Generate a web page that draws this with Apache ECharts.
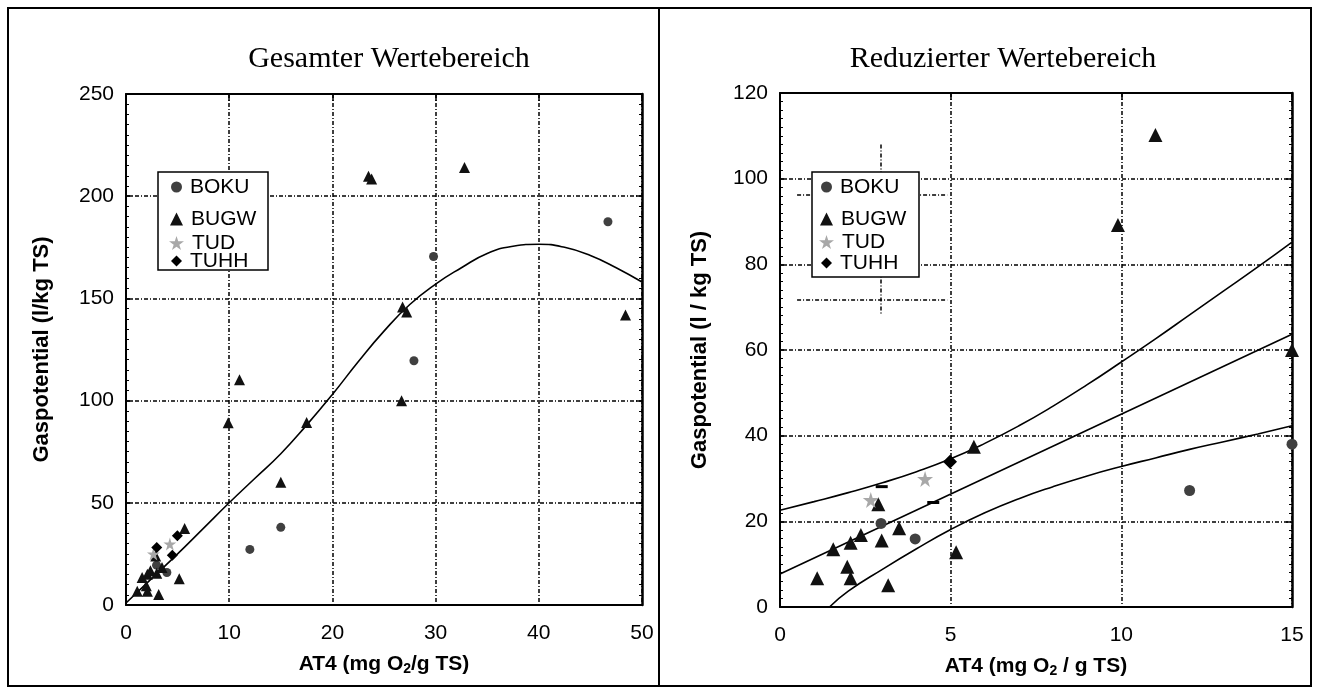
<!DOCTYPE html>
<html>
<head>
<meta charset="utf-8">
<script src="https://cdn.jsdelivr.net/npm/echarts@6/dist/echarts.min.js"></script>
<style>
html,body{margin:0;padding:0;background:#fff;}
#chart{width:1319px;height:693px;}
</style>
</head>
<body>
<div id="chart"></div>
<script>
// ---------- data ----------
var seriesNames = ['BOKU', 'BUGW', 'TUD', 'TUHH'];
var boku = [[2.96,19.5],[3.96,15.9],[12.0,27.2],[15.0,38.0],[27.9,119.5],[29.8,170.5],[46.7,187.5]];
var bugw = [[1.09,6.7],[1.56,13.5],[1.97,9.4],[2.07,6.7],[2.07,15.0],[2.37,16.8],[2.88,24.0],[2.98,15.5],
            [3.17,5.1],[3.49,18.4],[5.16,12.8],[5.68,37.4],[9.9,89.2],[11.0,110.2],[15.0,60.0],[17.5,89.3],
            [23.5,209.8],[23.8,208.4],[26.7,99.9],[26.8,145.8],[27.2,143.4],[32.8,214.0],[48.4,141.9]];
var tud  = [[2.66,25.0],[4.25,29.9]];
var tuhh = [[2.98,28.1],[4.98,33.9],[4.49,24.4]];
var tuhhDashIdxRight = [0, 2];   // drawn as short dashes in the right panel

// fitted curve, full range (left panel)
var fitAllX = [0,2.5,5,7.5,10,12.5,15,17.5,20,22.5,25,27.5,30,32.5,35,37.5,40,42.5,45,47.5,50];
var fitAllY = [1,13,25,37.5,50,62,74,88,103,119,134,147,157,165,172,175.5,176.5,175,171,165,158];

// linear fit with confidence band (right panel)
var linX = [0, 15];
var linY = [7.7, 63.7];
var bandUpX = [0,1,2,3,4,5,6,7,8,9,10,11,12,13,14,15];
var bandUpY = [22.6,24.6,26.7,29.0,31.6,34.6,38.2,42.3,46.9,51.9,57.2,62.6,68.2,73.8,79.4,85.2];
var bandLoX = [1.45,2,3,4,5,6,7,8,9,10,11,12,13,14,15];
var bandLoY = [0,3.7,8.8,13.6,18.1,22.0,25.3,28.1,30.6,32.8,34.8,36.8,38.6,40.4,42.3];

// stray grid fragments visible in the right panel
var ghostSegs = [
  [[2.95,108],[2.95,68.5]],
  [[0.5,96.2],[4.9,96.2]],
  [[0.5,71.8],[4.9,71.8]]
];

// axis ticks
var leftXTicks = {min:0, max:50, interval:10};
var leftYTicks = {min:0, max:250, interval:50};
var rightXTicks = {min:0, max:15, interval:5};
var rightYTicks = {min:0, max:120, interval:20};

var titles = ['Gesamter Wertebereich', 'Reduzierter Wertebereich'];
// ---------------------------------------------------

var FONT = 'Liberation Sans, Arial, sans-serif';
var SERIF = 'Liberation Serif, Times New Roman, serif';
var STAR = 'path://M50,0 L61,35 L98,35 L68,57 L79,91 L50,70 L21,91 L32,57 L2,35 L39,35 Z';
var colors = {BOKU:'#404040', BUGW:'#111111', TUD:'#a8a8a8', TUHH:'#000000'};
var symbols = {BOKU:'circle', BUGW:'triangle', TUD:STAR, TUHH:'diamond'};
var TICKFS = 21, NAMEFS = 21;

function zip(xs, ys){ return xs.map(function(x,i){ return [x, ys[i]]; }); }
function inRange(d, xr, yr){ return d.filter(function(p){ return p[0] <= xr.max && p[1] <= yr.max; }); }

var gridLine = {show:true, lineStyle:{color:'#000', width:1.5, type:[4,2,1,2]}};

function bottomX(idx, t, name){
  return {type:'value', gridIndex:idx, position:'bottom', min:t.min, max:t.max, interval:t.interval,
    axisLine:{show:true, onZero:false, lineStyle:{color:'#000', width:2}},
    axisTick:{show:false},
    axisLabel:{color:'#000', fontSize:TICKFS, fontFamily:FONT, margin:18},
    splitLine:gridLine,
    name:name, nameLocation:'middle', nameGap:47,
    nameTextStyle:{color:'#000', fontSize:NAMEFS, fontWeight:'bold', fontFamily:FONT,
      rich:{sub:{fontSize:14, fontWeight:'bold', fontFamily:FONT, color:'#000', padding:[10,0,0,0]}}}
  };
}
function topX(idx, t){
  return {type:'value', gridIndex:idx, position:'top', min:t.min, max:t.max, interval:t.interval,
    axisLine:{show:true, onZero:false, lineStyle:{color:'#000', width:2}},
    axisTick:{show:true, inside:true, length:7, lineStyle:{color:'#000', width:1.5}},
    axisLabel:{show:false}, splitLine:{show:false}};
}
function leftY(idx, t, name, gap){
  return {type:'value', gridIndex:idx, position:'left', min:t.min, max:t.max, interval:t.interval,
    axisLine:{show:true, onZero:false, lineStyle:{color:'#000', width:2}},
    axisTick:{show:true, inside:true, length:6, lineStyle:{color:'#000', width:1.5}},
    minorTick:{show:true, splitNumber:10, length:3, lineStyle:{color:'#000', width:1}},
    axisLabel:{color:'#000', fontSize:TICKFS, fontFamily:FONT, margin:12},
    splitLine:gridLine,
    name:name, nameLocation:'middle', nameGap:gap, nameRotate:90,
    nameTextStyle:{color:'#000', fontSize:22, fontWeight:'bold', fontFamily:FONT}};
}
function rightY(idx, t){
  return {type:'value', gridIndex:idx, position:'right', min:t.min, max:t.max, interval:t.interval,
    axisLine:{show:true, onZero:false, lineStyle:{color:'#000', width:2.5}},
    axisTick:{show:true, inside:true, length:6, lineStyle:{color:'#000', width:1.5}},
    minorTick:{show:true, splitNumber:10, length:3, lineStyle:{color:'#000', width:1}},
    axisLabel:{show:false}, splitLine:{show:false}};
}

function scatter(name, data, xi, yi, size, extra){
  var s = {type:'scatter', name:name, xAxisIndex:xi, yAxisIndex:yi, data:data, symbol:symbols[name],
    symbolSize:size, itemStyle:{color:colors[name], opacity:1}, clip:false, z:3,
    emphasis:{disabled:true}};
  if (extra) for (var k in extra) s[k] = extra[k];
  return s;
}

var xr = rightXTicks, yr = rightYTicks;
var tuhhRight = inRange(tuhh, xr, yr).map(function(p){
  var isDash = tuhhDashIdxRight.indexOf(tuhh.indexOf(p)) >= 0;
  return isDash ? {value:p, symbol:'rect', symbolSize:[12,3]} : {value:p};
});

function legendItem(name, left, top, size){
  return {data:[{name:name}], left:left, top:top, itemWidth:size, itemHeight:size, selectedMode:false,
    orient:'horizontal', padding:0, z:6,
    textStyle:{color:'#000', fontSize:21, fontFamily:FONT, padding:[0,0,0,3], lineHeight:22}};
}

var legends = [
  legendItem('BOKU', 171, 176, 11), legendItem('BUGW', 170, 208, 13),
  legendItem('TUD', 169, 232, 15), legendItem('TUHH', 171, 250, 11),
  legendItem('BOKU', 821, 176, 11), legendItem('BUGW', 820, 208, 13),
  legendItem('TUD', 819, 231, 15), legendItem('TUHH', 821, 252, 11)
];

var lineStyleFit = {color:'#000', width:1.6};

var option = {
  animation:false,
  backgroundColor:'#fff',
  title:[
    {text:titles[0], left:384, top:39, textAlign:'center',
      textStyle:{fontFamily:SERIF, fontSize:30, fontWeight:'normal', color:'#000'}},
    {text:titles[1], left:998, top:39, textAlign:'center',
      textStyle:{fontFamily:SERIF, fontSize:30, fontWeight:'normal', color:'#000'}}
  ],
  legend:legends,
  grid:[
    {left:126, top:94, width:516, height:511},
    {left:780, top:93, width:512, height:514}
  ],
  xAxis:[
    bottomX(0, leftXTicks, 'AT4 (mg O{sub|2}/g TS)'),
    bottomX(1, rightXTicks, 'AT4 (mg O{sub|2} / g TS)'),
    topX(0, leftXTicks), topX(1, rightXTicks)
  ],
  yAxis:[
    leftY(0, leftYTicks, 'Gaspotential (l/kg TS)', 73),
    leftY(1, rightYTicks, 'Gaspotential (l / kg TS)', 69),
    rightY(0, leftYTicks), rightY(1, rightYTicks)
  ],
  graphic:[
    {type:'rect', shape:{x:8, y:8, width:1303, height:678}, style:{fill:'none', stroke:'#000', lineWidth:2}, z:10},
    {type:'line', shape:{x1:659, y1:8, x2:659, y2:686}, style:{stroke:'#000', lineWidth:2}, z:10},
    {type:'rect', shape:{x:158, y:172, width:110, height:98}, style:{fill:'#fff', stroke:'#000', lineWidth:1.5}, z:5},
    {type:'rect', shape:{x:812, y:172, width:107, height:105}, style:{fill:'#fff', stroke:'#000', lineWidth:1.5}, z:5}
  ],
  series:[
    // left panel
    {type:'line', name:'fitAll', xAxisIndex:0, yAxisIndex:0, data:zip(fitAllX, fitAllY), smooth:true,
      showSymbol:false, lineStyle:lineStyleFit, z:2, silent:true},
    scatter('BOKU', boku, 0, 0, 9),
    scatter('BUGW', bugw, 0, 0, 11),
    scatter('TUD', tud, 0, 0, 13),
    scatter('TUHH', tuhh, 0, 0, 11),
    // right panel
    {type:'lines', coordinateSystem:'cartesian2d', xAxisIndex:1, yAxisIndex:1, silent:true, z:1,
      data:ghostSegs.map(function(s){ return {coords:s}; }),
      lineStyle:{color:'#000', width:1.5, type:[4,2,1,2], opacity:1}},
    {type:'line', name:'lin', xAxisIndex:1, yAxisIndex:1, data:zip(linX, linY), showSymbol:false,
      lineStyle:lineStyleFit, z:2, silent:true},
    {type:'line', name:'bandUp', xAxisIndex:1, yAxisIndex:1, data:zip(bandUpX, bandUpY), smooth:true,
      showSymbol:false, lineStyle:lineStyleFit, z:2, silent:true},
    {type:'line', name:'bandLo', xAxisIndex:1, yAxisIndex:1, data:zip(bandLoX, bandLoY), smooth:true,
      showSymbol:false, lineStyle:lineStyleFit, z:2, silent:true},
    scatter('BOKU', inRange(boku, xr, yr), 1, 1, 11),
    scatter('BUGW', inRange(bugw, xr, yr), 1, 1, 14),
    scatter('TUD', inRange(tud, xr, yr), 1, 1, 16),
    scatter('TUHH', tuhhRight, 1, 1, 14)
  ]
};

var chart = echarts.init(document.getElementById('chart'), null, {renderer:'canvas'});
chart.setOption(option);
</script>
</body>
</html>
